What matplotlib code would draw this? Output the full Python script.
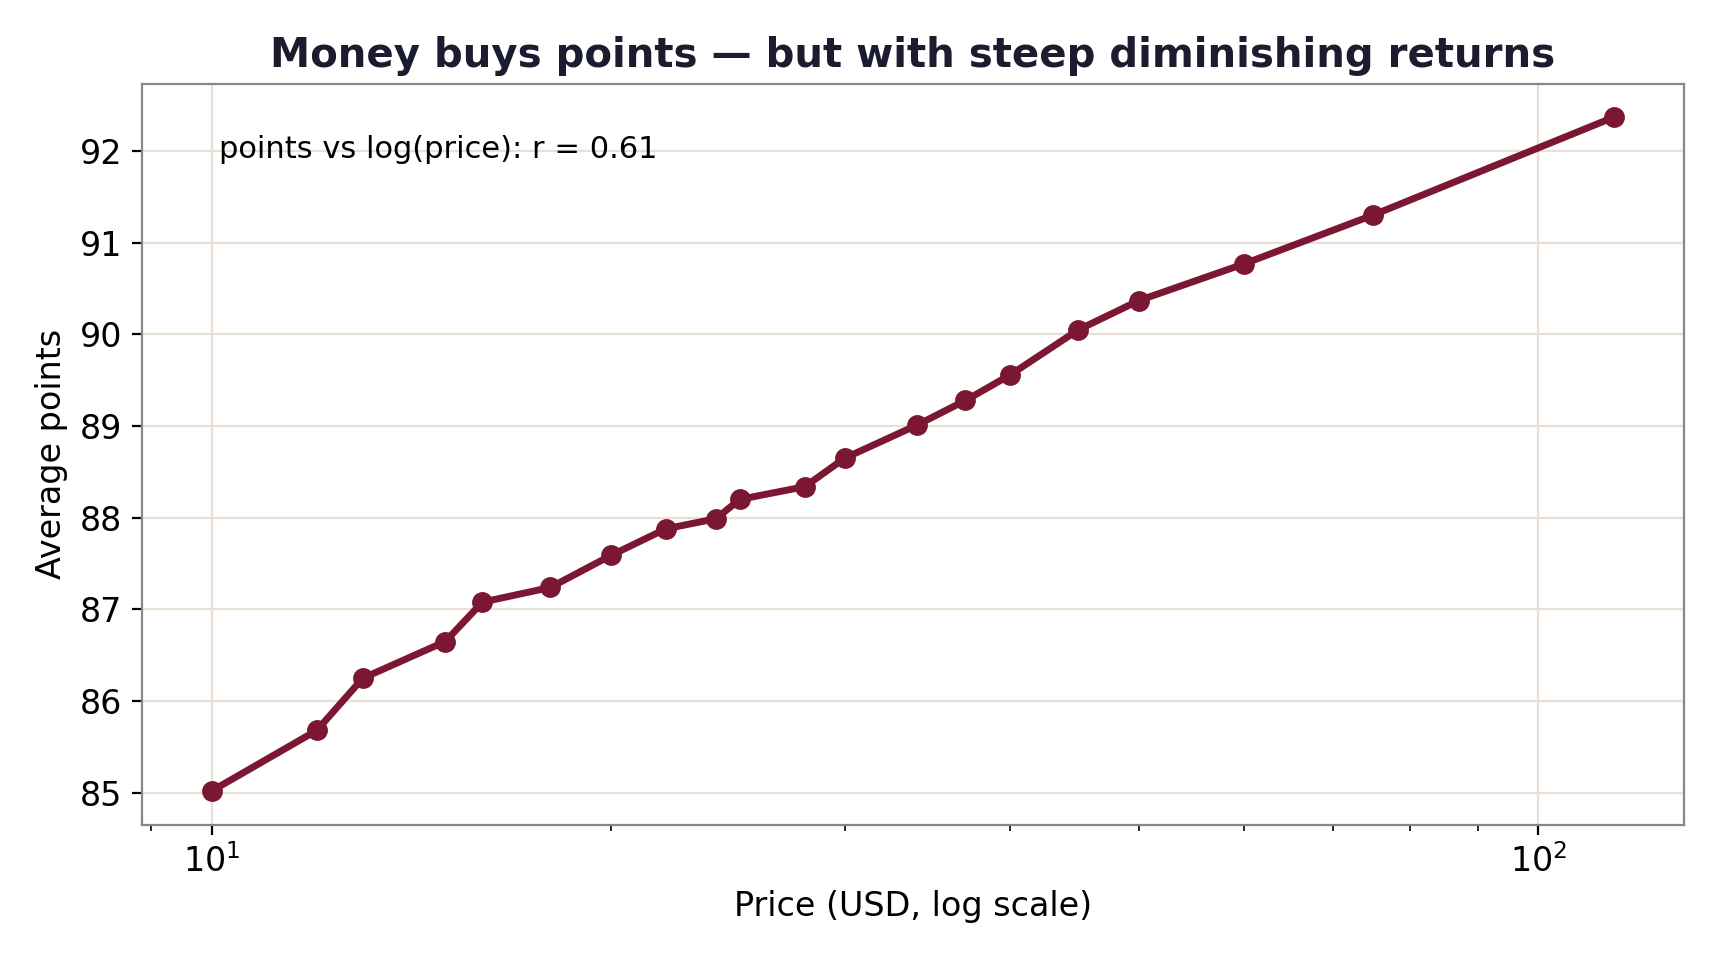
import matplotlib
matplotlib.use("Agg")
import matplotlib.pyplot as plt

price = [10, 12, 13, 15, 16, 18, 20, 22, 24, 25, 28, 30, 34, 37, 40, 45, 50, 60, 75, 114]
avg_points = [85.02, 85.68, 86.25, 86.65, 87.08, 87.24, 87.59, 87.88, 87.99, 88.20,
              88.34, 88.65, 89.01, 89.28, 89.56, 90.05, 90.37, 90.77, 91.30, 92.37]
title = "Money buys points — but with steep diminishing returns"
annotation = "points vs log(price): r = 0.61"
xlabel = "Price (USD, log scale)"
ylabel = "Average points"

line_color = "#7b1733"
grid_color = "#e8e0d2"
spine_color = "#888888"
title_color = "#1c1c30"

fig, ax = plt.subplots(figsize=(8.6, 4.8), dpi=200)
fig.subplots_adjust(left=0.0823, right=0.979, top=0.913, bottom=0.141)

ax.plot(price, avg_points, color=line_color, lw=2.5, marker="o", markersize=6.5, zorder=3)
ax.set_xscale("log")
ax.grid(True, color=grid_color, lw=0.8, zorder=0)
ax.set_axisbelow(True)
for s in ax.spines.values():
    s.set_color(spine_color)
    s.set_linewidth(0.8)

ax.set_title(title, fontsize=14.5, fontweight="bold", color=title_color)
ax.set_xlabel(xlabel, fontsize=12)
ax.set_ylabel(ylabel, fontsize=12)
ax.tick_params(axis="both", labelsize=12)
ax.text(0.05, 0.93, annotation, transform=ax.transAxes, va="top", ha="left", fontsize=11)

fig.savefig("out.png", dpi=200)
